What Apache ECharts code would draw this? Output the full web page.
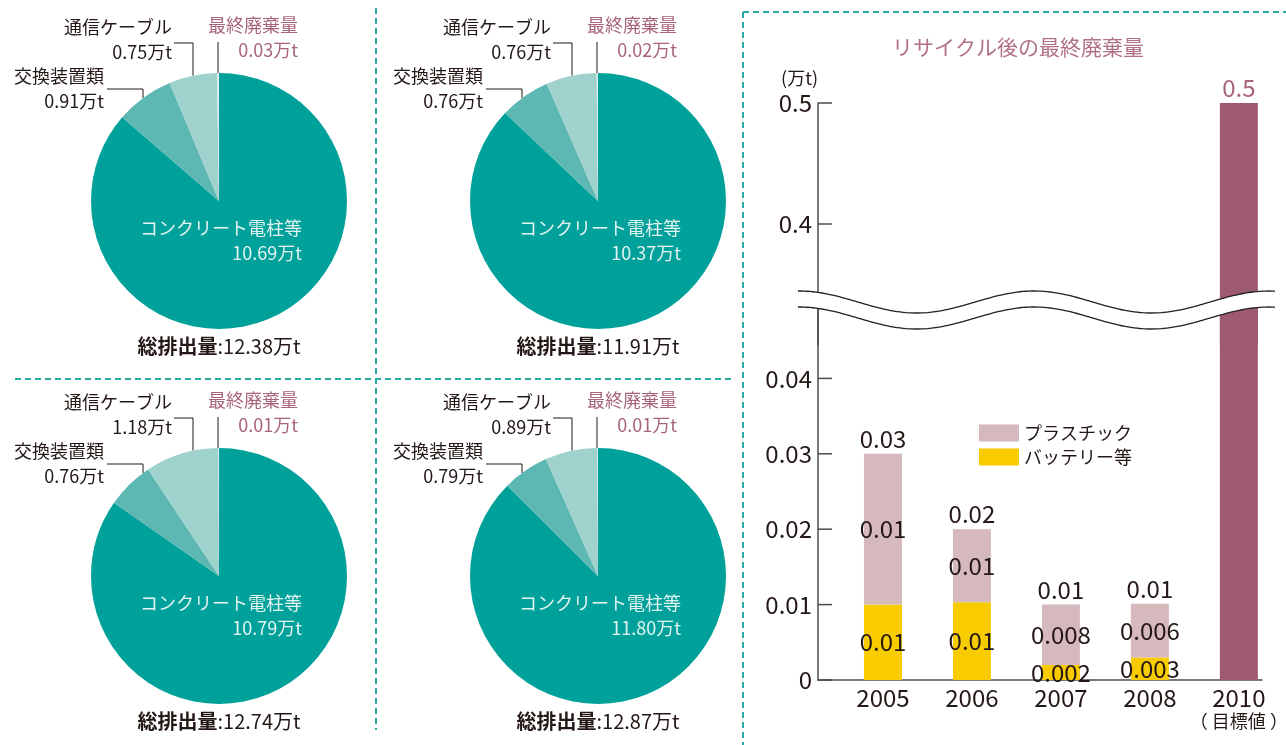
<!DOCTYPE html>
<html>
<head>
<meta charset="utf-8">
<script src="https://cdn.jsdelivr.net/npm/echarts@6/dist/echarts.min.js"></script>
<style>
  html, body { margin: 0; padding: 0; background: #fff; }
  #chart { width: 1286px; height: 745px; }
</style>
</head>
<body>
<div id="chart"></div>
<script>
// --- pie data (万t)
const pieYears = ['2005年度', '2006年度', '2007年度', '2008年度']
const pieNames = ['コンクリート電柱等', '交換装置類', '通信ケーブル', '最終廃棄量']
const concrete = [10.69, 10.37, 10.79, 11.80]
const switchgear = [0.91, 0.76, 0.76, 0.79]
const cable = [0.75, 0.76, 1.18, 0.89]
const finalWaste = [0.03, 0.02, 0.01, 0.01]
const totals = ['12.38', '11.91', '12.74', '12.87']

// --- bar data (万t)
const years = ['2005', '2006', '2007', '2008', '2010']
const battery = [0.01, 0.0103, 0.002, 0.003, null]
const plastic = [0.02, 0.0097, 0.008, 0.0071, null]
const target = [null, null, null, null, 0.5]
const batteryText = ['0.01', '0.01', '0.002', '0.003', '']
const plasticText = ['0.01', '0.01', '0.008', '0.006', '']
const totalText = ['0.03', '0.02', '0.01', '0.01', '']
const lowTicks = [0, 0.01, 0.02, 0.03, 0.04]
const highTicks = [0.4, 0.5]

const FONT = '"Noto Sans CJK JP", "Noto Sans", sans-serif'
const INK = '#231815'
const MAUVE = '#a8647c'

const chart = echarts.init(document.getElementById('chart'))

// pie layout
const pieCenters = [[219, 201], [598, 201], [219, 576], [598, 576]]
const R = 128
const sliceColors = ['#00a19a', '#5db8b3', '#9fd1cd', '#dcefed']
// label anchor (right edge, middle) and leader line, relative to pie center
const spots = [
  { x: 83, y: 40 },
  { x: -115, y: -112, lx: -76, ly: -112, ex: -112 },
  { x: -47, y: -161, lx: -26, ly: -158, ex: -45 },
  { x: 79, y: -163, lx: -1, ly: -159, ex: -1 }
]

const pieSeries = pieYears.map((yr, k) => {
  const [cx, cy] = pieCenters[k]
  const vals = [concrete[k], switchgear[k], cable[k], finalWaste[k]]
  return {
    type: 'pie',
    center: [cx, cy],
    radius: R,
    startAngle: 90,
    clockwise: true,
    avoidLabelOverlap: false,
    silent: true,
    label: {
      show: true,
      fontSize: 18,
      lineHeight: 25,
      color: INK,
      formatter: p => p.name + '\n' + p.value.toFixed(2) + '万t'
    },
    labelLine: { show: true, lineStyle: { color: INK, width: 1 } },
    labelLayout: p => {
      const s = spots[p.dataIndex]
      const out = { x: cx + s.x, y: cy + s.y, align: 'right', verticalAlign: 'middle' }
      if (s.lx !== undefined) {
        const px = cx + s.lx
        const py = cy - Math.sqrt(R * R - s.lx * s.lx)
        out.labelLinePoints = [[px, py], [px, cy + s.ly], [cx + s.ex, cy + s.ly]]
      }
      return out
    },
    data: pieNames.map((n, i) => {
      const d = { name: n, value: vals[i], itemStyle: { color: sliceColors[i] } }
      if (i === 0) {
        d.label = { position: 'inside', color: '#e2f3f1' }
        d.labelLine = { show: false }
      }
      if (i === 3) d.label = { color: MAUVE }
      return d
    })
  }
})

// bar items as [value, slot]; slots are 1-based so the x range stays clear of zero
// value comes first so the stack runs on the value dimension
const pair = arr => arr.map((v, i) => [v == null ? '-' : v, i + 1])
const topZero = battery.map(v => (v == null ? null : 0))
const enc = { x: 1, y: 0 }

const barLabel = { fontSize: 24, color: INK }

// decorations: dividers, year boxes, totals, axis break band
const dash = { stroke: '#2aaca5', lineWidth: 2, lineDash: [6, 4] }
const graphics = [
  { type: 'line', shape: { x1: 376, y1: 8, x2: 376, y2: 730 }, style: dash },
  { type: 'line', shape: { x1: 15, y1: 379, x2: 732, y2: 379 }, style: dash },
  { type: 'line', shape: { x1: 743, y1: 12, x2: 743, y2: 745 }, style: dash },
  { type: 'line', shape: { x1: 743, y1: 12, x2: 1286, y2: 12 }, style: dash }
]
pieCenters.forEach(([cx, cy], k) => {
  graphics.push({
    type: 'group', x: cx + 12, y: cy - 41, z: 50,
    children: [
      { type: 'rect', shape: { x: 0, y: 0, width: 97, height: 32 }, style: { fill: '#0e5eab', stroke: '#fff', lineWidth: 1.5 } },
      { type: 'text', x: 48.5, y: 16, style: { text: pieYears[k], fill: '#fff', fontSize: 18, fontFamily: FONT, align: 'center', verticalAlign: 'middle' } }
    ]
  })
  graphics.push({
    type: 'text', x: cx, y: cy + 145, z: 50,
    style: {
      text: '{b|総排出量}{n|:' + totals[k] + '万t}',
      align: 'center', verticalAlign: 'middle',
      rich: {
        b: { fontSize: 20, fontWeight: 'bold', fontFamily: FONT, fill: INK, color: INK },
        n: { fontSize: 20, fontFamily: FONT, fill: INK, color: INK }
      }
    }
  })
})

// wavy break band across the bar chart
const wave = []
for (let x = 798; x <= 1276; x += 3) wave.push([x, 302 - 11 * Math.cos(2 * Math.PI * (x - 799) / 235)])
const waveLow = wave.map(([x, y]) => [x, y + 16])
graphics.push(
  { type: 'polygon', z: 60, shape: { points: wave.concat(waveLow.slice().reverse()) }, style: { fill: '#fff' } },
  { type: 'polyline', z: 61, shape: { points: wave }, style: { stroke: '#222', lineWidth: 1.3, fill: null } },
  { type: 'polyline', z: 61, shape: { points: waveLow }, style: { stroke: '#222', lineWidth: 1.3, fill: null } }
)

const axisColor = { color: '#4d4d4d', width: 1.5 }

const option = {
  animation: false,
  textStyle: { fontFamily: FONT },
  title: {
    text: 'リサイクル後の最終廃棄量',
    left: 887, top: 32,
    textStyle: { fontSize: 21, fontWeight: 'normal', color: '#b07088' }
  },
  legend: {
    data: ['プラスチック', 'バッテリー等'],
    orient: 'vertical',
    left: 979, top: 424, padding: 0,
    itemWidth: 40, itemHeight: 17, itemGap: 6,
    icon: 'rect',
    selectedMode: false,
    textStyle: { fontSize: 18, color: INK }
  },
  grid: [
    { left: 818, right: 24, top: 306, bottom: 65, outerBoundsMode: 'none' },
    { left: 818, right: 24, top: 103, height: 242, outerBoundsMode: 'none' }
  ],
  xAxis: [
    {
      gridIndex: 0, type: 'value', min: 0.27, max: 5.26,
      axisLine: { show: true, lineStyle: axisColor },
      axisTick: { show: false },
      splitLine: { show: false },
      axisLabel: {
        customValues: years.map((y, i) => i + 1),
        formatter: v => {
          const y = years[Math.round(v) - 1]
          return y === '2010' ? y + '\n{s|（ 目標値 ）}' : y
        },
        fontSize: 24, color: INK, margin: 5, lineHeight: 25,
        rich: { s: { fontSize: 18, color: INK, lineHeight: 22 } }
      }
    },
    { gridIndex: 1, type: 'value', min: 0.27, max: 5.26, show: false }
  ],
  yAxis: [
    {
      gridIndex: 0, type: 'value', min: 0, max: 0.0496, interval: 0.01,
      axisLine: { show: true, lineStyle: axisColor },
      axisTick: { show: false },
      axisLabel: { showMaxLabel: false, fontSize: 24, color: INK, margin: 6 },
      splitLine: { show: false }
    },
    {
      gridIndex: 1, type: 'value', min: 0.3, max: 0.5, interval: 0.1,
      name: '(万t)', nameLocation: 'end', nameGap: 16,
      nameTextStyle: { fontSize: 18, color: INK, align: 'right' },
      axisLine: { show: true, lineStyle: axisColor },
      axisTick: { show: false },
      axisLabel: { showMinLabel: false, fontSize: 24, color: INK, margin: 6 },
      splitLine: { show: false }
    }
  ],
  series: [
    ...pieSeries,
    {
      name: 'バッテリー等', type: 'bar', stack: 'w', barWidth: 38,
      xAxisIndex: 0, yAxisIndex: 0, encode: enc,
      itemStyle: { color: '#f9cc00' },
      label: { show: true, position: 'inside', ...barLabel, formatter: p => batteryText[p.dataIndex] },
      data: pair(battery)
    },
    {
      name: 'プラスチック', type: 'bar', stack: 'w', barWidth: 38,
      xAxisIndex: 0, yAxisIndex: 0, encode: enc,
      itemStyle: { color: '#d6b9bd' },
      label: { show: true, position: 'inside', ...barLabel, formatter: p => plasticText[p.dataIndex] },
      data: pair(plastic)
    },
    {
      name: '合計', type: 'bar', stack: 'w', barWidth: 38,
      xAxisIndex: 0, yAxisIndex: 0, encode: enc,
      itemStyle: { color: 'transparent' },
      label: { show: true, position: 'top', distance: 3, ...barLabel, formatter: p => totalText[p.dataIndex] },
      data: pair(topZero)
    },
    {
      name: '目標', type: 'bar', stack: 'w', barWidth: 38,
      xAxisIndex: 0, yAxisIndex: 0, encode: enc,
      itemStyle: { color: '#9e5a6e' },
      data: pair(target)
    },
    {
      name: '目標値', type: 'bar', barWidth: 38,
      xAxisIndex: 1, yAxisIndex: 1, encode: enc,
      itemStyle: { color: '#9e5a6e' },
      label: { show: true, position: 'top', distance: 3, fontSize: 24, color: MAUVE, formatter: p => String(p.value[0]) },
      data: pair(target)
    }
  ],
  graphic: graphics
}

chart.setOption(option)

// inward y-axis ticks, placed through the axes' own scales
const tickLines = []
const addTicks = (vals, axisIndex) => {
  const x0 = chart.convertToPixel({ xAxisIndex: axisIndex }, 0.27)
  vals.forEach(v => {
    const y = chart.convertToPixel({ yAxisIndex: axisIndex }, v)
    tickLines.push({
      type: 'line', z: 40,
      shape: { x1: x0, y1: y, x2: x0 + 14, y2: y },
      style: { stroke: '#4d4d4d', lineWidth: 1.5 }
    })
  })
}
addTicks(lowTicks, 0)
addTicks(highTicks, 1)
chart.setOption({ graphic: graphics.concat(tickLines) })
</script>
</body>
</html>
